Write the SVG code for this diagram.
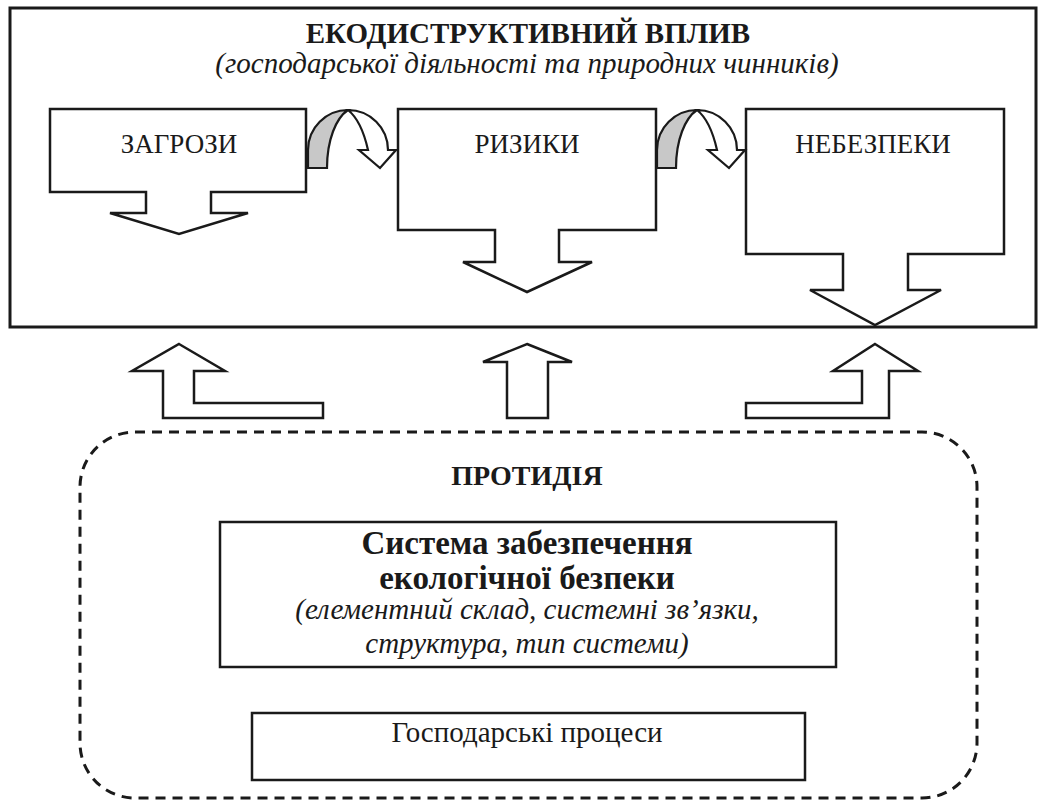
<svg xmlns="http://www.w3.org/2000/svg" width="1040" height="801" viewBox="0 0 1040 801">
  <style>
    .shape { fill: #ffffff; stroke: #1a1a1a; stroke-width: 2.5; stroke-linejoin: miter; }
    .outer { fill: #ffffff; stroke: #1a1a1a; stroke-width: 3; }
    .dashed { fill: none; stroke: #1a1a1a; stroke-width: 3; stroke-dasharray: 10 7; }
    .gray { fill: #c8c8c8; stroke: #1a1a1a; stroke-width: 2.2; }
    .wht { fill: #ffffff; stroke: #1a1a1a; stroke-width: 2.2; }
    text { font-family: "Liberation Serif", "Times New Roman", serif; fill: #1a1a1a; text-anchor: middle; }
    .title { font-size: 29px; font-weight: bold; }
    .prot { font-size: 28px; font-weight: bold; }
    .sub { font-size: 29px; font-style: italic; }
    .lbl { font-size: 27px; }
    .proc { font-size: 29px; }
    .sys { font-size: 33px; font-weight: bold; }
  </style>
  <rect width="1040" height="801" fill="#ffffff"/>

  <g id="impact">
    <rect class="outer" x="10" y="8" width="1026" height="319"/>
    <text class="title" x="528" y="43">ЕКОДИСТРУКТИВНИЙ ВПЛИВ</text>
    <text class="sub" x="527" y="73">(господарської діяльності та природних чинників)</text>
  </g>

  <g id="threats">
    <path class="shape" d="M50,109 H306 V192 H211 V213 H248 L179,234 L110,213 H146 V192 H50 Z"/>
    <text class="lbl" x="179" y="153">ЗАГРОЗИ</text>
  </g>

  <g id="risks">
    <path class="shape" d="M398,109 H656 V230 H559 V262 H592 L527,292 L463,262 H495 V230 H398 Z"/>
    <text class="lbl" x="527" y="153">РИЗИКИ</text>
  </g>

  <g id="dangers">
    <path class="shape" d="M746,109 H1004 V254 H908 V290 H941 L875,325 L810,290 H843 V254 H746 Z"/>
    <text class="lbl" x="873" y="153">НЕБЕЗПЕКИ</text>
  </g>

  <g id="counteraction">
    <rect class="dashed" x="80" y="432" width="897" height="366" rx="55" ry="55"/>
    <text class="prot" x="527" y="485">ПРОТИДІЯ</text>
  </g>

  <g id="system">
    <rect class="shape" x="220" y="522" width="616" height="145"/>
    <text class="sys" x="527" y="554">Система забезпечення</text>
    <text class="sys" x="527" y="589">екологічної безпеки</text>
    <text class="sub" x="527" y="619">(елементний склад, системні зв’язки,</text>
    <text class="sub" x="527" y="653">структура, тип системи)</text>
  </g>

  <g id="processes">
    <rect class="shape" x="252" y="713" width="553" height="67"/>
    <text class="proc" x="527" y="742">Господарські процеси</text>
  </g>

  <g id="connectors">
    <g id="curve1">
      <path class="gray" d="M308,168 V150 A40,40 0 0 1 348,110 C336,118 327,140 327,168 Z"/>
      <path class="wht" d="M348,110 A40,40 0 0 1 388,150 L396,150 L380,168 L359,150 L368,150 C364,132 358,118 348,110 Z"/>
    </g>
    <g id="curve2" transform="translate(349,0)">
      <path class="gray" d="M308,168 V150 A40,40 0 0 1 348,110 C336,118 327,140 327,168 Z"/>
      <path class="wht" d="M348,110 A40,40 0 0 1 388,150 L396,150 L380,168 L359,150 L368,150 C364,132 358,118 348,110 Z"/>
    </g>
    <path class="shape" d="M179,344 L225,371 H194 V403 H323 V418 H163 V371 H132 Z"/>
    <path class="shape" d="M527,344 L572,362 H548 V418 H507 V362 H483 Z"/>
    <path class="shape" d="M875,344 L918,371 H889 V418 H746 V403 H862 V371 H833 Z"/>
  </g>
</svg>
